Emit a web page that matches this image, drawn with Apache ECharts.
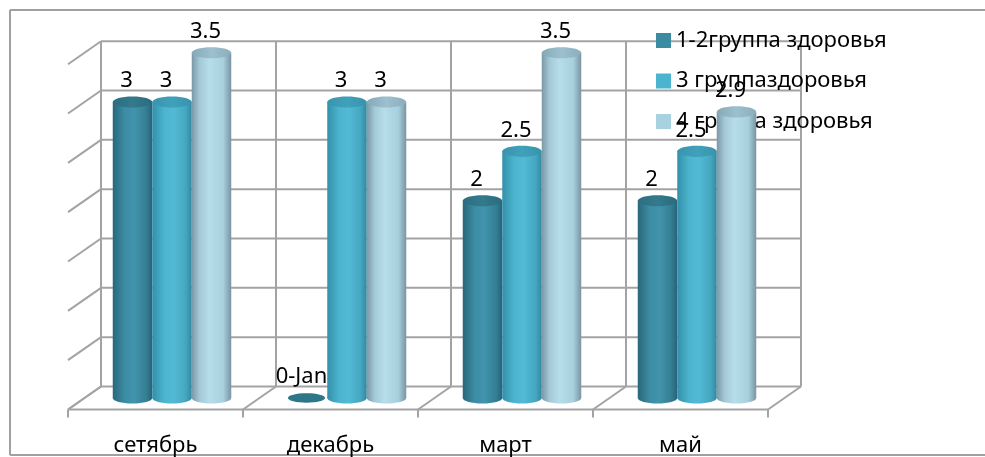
<!DOCTYPE html>
<html>
<head>
<meta charset="utf-8">
<script src="https://cdn.jsdelivr.net/npm/echarts@6/dist/echarts.min.js"></script>
<style>
  html, body { margin: 0; padding: 0; background: #fff; overflow: hidden; }
  #chart { width: 985px; height: 457px; }
</style>
</head>
<body>
<div id="chart"></div>
<script>
// Months of the school year
const categories = ['сетябрь', 'декабрь', 'март', 'май'];

// Series names
const seriesNames = ['1-2группа здоровья', '3 группаздоровья', '4 группа здоровья'];

// Values per health group
const group12 = [3, 0, 2, 2];
const group3 = [3, 3, 2.5, 2.5];
const group4 = [3.5, 3, 3.5, 2.9];

// Value axis ticks
const valueTicks = [0, 0.5, 1, 1.5, 2, 2.5, 3, 3.5];

const FONT = '"Noto Sans", "Liberation Sans", sans-serif';
const FONT_SIZE = 22;
const DEPTH_X = 33;   // horizontal depth of the 3D box
const DEPTH_Y = -23;  // vertical depth of the 3D box
const GRID_COLOR = '#a3a3a3';

// Spreadsheet-style number format: a zero shows up as a day-zero date
function formatLabel(v) {
  return v === 0 ? '0-Jan' : String(v);
}

const palettes = [
  {
    legend: '#3b8ba3',
    body: [[0, '#29687b'], [0.3, '#3c8ca4'], [0.55, '#4194ac'], [0.85, '#347e93'], [1, '#27627a']],
    top: [[0, '#2c6e81'], [0.5, '#34798d'], [1, '#2b6b7e']]
  },
  {
    legend: '#4bb4cf',
    body: [[0, '#3390a9'], [0.3, '#4cb4ce'], [0.55, '#52bad4'], [0.85, '#45a6c0'], [1, '#33879f']],
    top: [[0, '#3994ad'], [0.5, '#40a1bb'], [1, '#3893ab']]
  },
  {
    legend: '#a8d2e0',
    body: [[0, '#7b98a5'], [0.2, '#a4c9d7'], [0.45, '#b6dde9'], [0.8, '#a7cfdd'], [1, '#7a94a0']],
    top: [[0, '#86a9b7'], [0.5, '#9cc0ce'], [1, '#8aaebc']]
  }
];

function grad(stops) {
  return new echarts.graphic.LinearGradient(0, 0, 1, 0,
    stops.map(s => ({ offset: s[0], color: s[1] })));
}

// Cylinder renderer for one series (sIdx = position inside the group)
function cylinderRenderer(sIdx) {
  return function (params, api) {
    const ci = api.value(0);
    const v = api.value(1);
    const base = api.coord([ci, 0]);
    const top = api.coord([ci, v]);
    const band = api.size([1, 0])[0];
    const w = band * 0.2257;
    const cx = base[0] + (sIdx - 1) * w;
    const rx = w / 2;
    const ry = w * 0.14;
    const pal = palettes[sIdx];
    const children = [];
    if (v === 0) {
      children.push({
        type: 'ellipse',
        shape: { cx: cx - 1, cy: base[1], rx: rx * 0.94, ry: ry * 0.85 },
        style: { fill: '#2e7689' }
      });
    } else {
      children.push({
        type: 'rect',
        shape: { x: cx - rx, y: top[1], width: 2 * rx, height: base[1] - top[1] },
        style: { fill: grad(pal.body) }
      });
      children.push({
        type: 'ellipse',
        shape: { cx: cx, cy: base[1], rx: rx, ry: ry },
        style: { fill: grad(pal.body) }
      });
      children.push({
        type: 'ellipse',
        shape: { cx: cx, cy: top[1], rx: rx, ry: ry },
        style: { fill: grad(pal.top) }
      });
    }
    children.push({
      type: 'text',
      z2: 10,
      style: {
        text: formatLabel(v),
        x: cx - 6,
        y: top[1] - 21,
        align: 'center',
        verticalAlign: 'middle',
        fontSize: FONT_SIZE,
        fontFamily: FONT,
        fill: '#000'
      }
    });
    return { type: 'group', children: children };
  };
}

// Walls, floor and gridlines of the 3D box
function frameRenderer(params, api) {
  const band = api.size([1, 0])[0];
  const left = api.coord([0, 0])[0] - band / 2;
  const right = left + band * categories.length;
  const hx = DEPTH_X / 2, hy = DEPTH_Y / 2;
  const y0 = api.coord([0, 0])[1];
  const yMax = api.coord([0, valueTicks[valueTicks.length - 1]])[1];
  const lines = [];
  const line = (x1, y1, x2, y2) => lines.push({
    type: 'line',
    shape: { x1, y1, x2, y2 },
    style: { stroke: GRID_COLOR, lineWidth: 2 }
  });
  valueTicks.forEach(t => {
    const y = api.coord([0, t])[1];
    // back wall
    line(left + hx, y + hy, right + hx, y + hy);
    // side wall
    line(left - hx, y - hy, left + hx, y + hy);
  });
  for (let i = 0; i <= categories.length; i++) {
    const x = left + band * i;
    // back wall vertical
    line(x + hx, y0 + hy, x + hx, yMax + hy);
    // floor depth line
    line(x - hx, y0 - hy, x + hx, y0 + hy);
    // tick below the floor edge
    line(x - hx, y0 - hy, x - hx, y0 - hy + 8);
  }
  // floor front edge
  line(left - hx, y0 - hy, right - hx, y0 - hy);
  return { type: 'group', children: lines };
}

const chart = echarts.init(document.getElementById('chart'));

const seriesData = [group12, group3, group4];

// Outer chart-area border (open on the right side)
const borderStyle = { stroke: '#a0a0a0', lineWidth: 2 };

const option = {
  animation: false,
  backgroundColor: '#fff',
  grid: { left: 84.5, top: 52.7, width: 700, height: 345.8 },
  xAxis: {
    type: 'category',
    data: categories,
    axisLine: { show: false },
    axisTick: { show: false },
    splitLine: { show: false },
    axisLabel: {
      color: '#000',
      fontSize: FONT_SIZE,
      fontFamily: FONT,
      margin: 37,
      padding: [0, DEPTH_X, 0, 0]
    }
  },
  yAxis: {
    type: 'value',
    min: 0,
    max: 3.5,
    interval: 0.5,
    show: false
  },
  legend: {
    orient: 'vertical',
    left: 651,
    top: 24.5,
    itemWidth: 15,
    itemHeight: 15,
    itemGap: 18.5,
    icon: 'rect',
    textStyle: { color: '#000', fontSize: FONT_SIZE, fontFamily: FONT, lineHeight: 22 },
    data: seriesNames
  },
  graphic: [
    { type: 'line', shape: { x1: 10, y1: 10, x2: 985, y2: 10 }, style: borderStyle, silent: true, z: -1 },
    { type: 'line', shape: { x1: 10, y1: 10, x2: 10, y2: 455 }, style: borderStyle, silent: true, z: -1 },
    { type: 'line', shape: { x1: 10, y1: 455, x2: 985, y2: 455 }, style: borderStyle, silent: true, z: -1 }
  ],
  series: [
    {
      type: 'custom',
      name: 'frame',
      silent: true,
      z: 1,
      data: [[0, 0]],
      encode: { x: 0, y: 1 },
      renderItem: frameRenderer
    }
  ].concat(seriesData.map((vals, s) => ({
    type: 'custom',
    name: seriesNames[s],
    z: 2 + s,
    itemStyle: { color: palettes[s].legend },
    data: vals.map((v, i) => [i, v]),
    encode: { x: 0, y: 1 },
    renderItem: cylinderRenderer(s)
  })))
};

chart.setOption(option);
</script>
</body>
</html>
